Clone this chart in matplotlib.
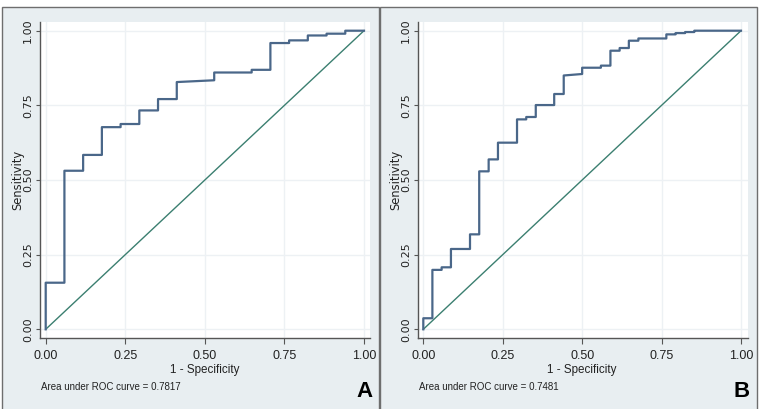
import matplotlib
matplotlib.use("Agg")
import matplotlib.pyplot as plt
from matplotlib.patches import Rectangle

# ---------------- data ----------------
fpr_a = [0, 0, 0.0588, 0.0588, 0.1176, 0.1176, 0.1765, 0.1765, 0.2353, 0.2353,
         0.2941, 0.2941, 0.3529, 0.3529, 0.4118, 0.4118, 0.5294, 0.5294, 0.6471,
         0.6471, 0.7059, 0.7059, 0.7647, 0.7647, 0.8235, 0.8235, 0.8824, 0.8824,
         0.9412, 0.9412, 1.0]
tpr_a = [0, 0.156, 0.156, 0.531, 0.531, 0.584, 0.584, 0.677, 0.677, 0.6875,
         0.6875, 0.733, 0.733, 0.771, 0.771, 0.828, 0.834, 0.860, 0.860,
         0.869, 0.869, 0.9587, 0.9587, 0.9676, 0.9676, 0.984, 0.984, 0.990,
         0.990, 1.0, 1.0]

fpr_b = [0, 0, 0.0286, 0.0286, 0.0577, 0.0577, 0.087, 0.087, 0.147, 0.147,
         0.176, 0.176, 0.2057, 0.2057, 0.235, 0.235, 0.295, 0.295, 0.324, 0.324,
         0.354, 0.354, 0.412, 0.412, 0.442, 0.442, 0.500, 0.500, 0.559, 0.559,
         0.589, 0.589, 0.618, 0.618, 0.647, 0.647, 0.677, 0.677, 0.765, 0.765,
         0.794, 0.794, 0.824, 0.824, 0.853, 0.853, 1.0]
tpr_b = [0, 0.037, 0.037, 0.199, 0.199, 0.2076, 0.2076, 0.269, 0.269, 0.318,
         0.318, 0.529, 0.529, 0.569, 0.569, 0.625, 0.625, 0.703, 0.703, 0.711,
         0.711, 0.751, 0.751, 0.788, 0.788, 0.850, 0.855, 0.876, 0.876, 0.883,
         0.883, 0.933, 0.933, 0.942, 0.942, 0.9665, 0.9665, 0.974, 0.974, 0.9877,
         0.9877, 0.992, 0.992, 0.9955, 0.9955, 1.0, 1.0]

auc_a = "0.7817"
auc_b = "0.7481"
panel_labels = ["A", "B"]
ticks = [0.0, 0.25, 0.5, 0.75, 1.0]
tick_labels = ["0.00", "0.25", "0.50", "0.75", "1.00"]
xlabel = "1 - Specificity"
ylabel = "Sensitivity"

# ---------------- style ----------------
W, H = 760, 409
DPI = 100
narrow = "Liberation Sans"

BG = "#e8eef1"
FRAME = "#6e6e6e"
ROC_C = "#4a6789"
DIAG_C = "#3b7f70"
GRID_C = "#edf1f4"
TXT = "#222222"

fig = plt.figure(figsize=(W / DPI, H / DPI), dpi=DPI)
fig.patch.set_facecolor("white")

def fx(px):
    return px / W

def fy(py):
    return 1 - py / H

# panel frames
for x0, x1 in [(2, 379), (380, 757)]:
    fig.patches.append(Rectangle((fx(x0), fy(412)), fx(x1) - fx(x0), fy(7) - fy(412),
                                 transform=fig.transFigure, facecolor=BG,
                                 edgecolor=FRAME, linewidth=1.0, zorder=-10))

panels = [
    dict(left=40, right=370, fpr=fpr_a, tpr=tpr_a, auc=auc_a, lab=panel_labels[0],
         labx=364.5, aucx=41, x0=45.7, x1=364.0),
    dict(left=418, right=747.5, fpr=fpr_b, tpr=tpr_b, auc=auc_b, lab=panel_labels[1],
         labx=741.7, aucx=419, x0=423.3, x1=741.0),
]
top, bot = 22, 337.5
y1p, y0p = 30.7, 329.3

for p in panels:
    ax = fig.add_axes([fx(p["left"]), fy(bot), fx(p["right"]) - fx(p["left"]), fy(top) - fy(bot)],
                      zorder=5)
    ax.set_facecolor("white")
    sx = p["x1"] - p["x0"]
    ax.set_xlim(-(p["x0"] - p["left"]) / sx, 1 + (p["right"] - p["x1"]) / sx)
    sy = y0p - y1p
    ax.set_ylim(-(bot - y0p) / sy, 1 + (y1p - top) / sy)
    for s in ["top", "right"]:
        ax.spines[s].set_visible(False)
    for s in ["left", "bottom"]:
        ax.spines[s].set_color("#555555")
        ax.spines[s].set_linewidth(1.0)
    ax.set_xticks(ticks)
    ax.set_yticks(ticks)
    ax.set_xticklabels(tick_labels, family=narrow, fontsize=9, color=TXT)
    ax.set_yticklabels(tick_labels, family="DejaVu Sans", fontsize=8, color=TXT,
                       rotation=90, va="center")
    ax.tick_params(axis="x", length=4, width=0.8, color="#555555", pad=5)
    ax.tick_params(axis="y", length=3, width=0.8, color="#555555", pad=2)
    ax.grid(True, color=GRID_C, linewidth=1.0)
    ax.set_axisbelow(True)
    ax.plot([0, 1], [0, 1], color=DIAG_C, linewidth=1.0, zorder=3)
    ax.plot(p["fpr"], p["tpr"], color=ROC_C, linewidth=1.6, zorder=4)

    cx = fx((p["x0"] + p["x1"]) / 2)
    fig.text(cx, fy(369.5), xlabel, family=narrow, fontsize=8.4, color=TXT,
             ha="center", va="center", zorder=6)
    fig.text(fx(p["left"] - 22), fy(180), ylabel, family="DejaVu Sans", fontsize=8.3,
             color=TXT, rotation=90, ha="center", va="center", zorder=6)
    fig.text(fx(p["aucx"]), fy(387.3), "Area under ROC curve = " + p["auc"],
             family=narrow, fontsize=7.0, color=TXT, ha="left", va="center", zorder=6)
    fig.text(fx(p["labx"]), fy(391.2), p["lab"], family="Liberation Sans",
             fontweight="bold", fontsize=16, color="black", ha="center", va="center", zorder=6)

fig.savefig("out.png", dpi=DPI, facecolor="white")
